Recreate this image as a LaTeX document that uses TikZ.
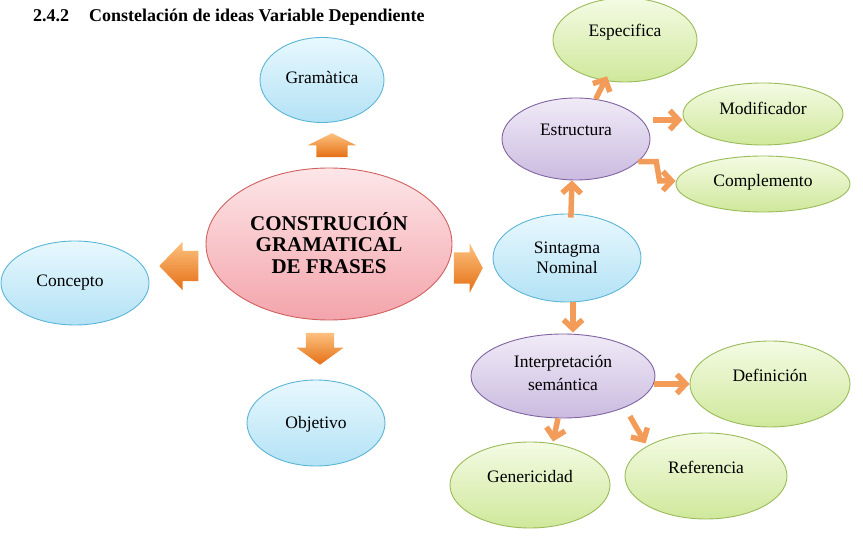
\documentclass[tikz,border=0pt]{standalone}
\usepackage{fontspec}
\setmainfont{Liberation Serif}
\usetikzlibrary{shapes.geometric,shapes.arrows,arrows.meta}
\definecolor{blueLine}{HTML}{5BB5D6}
\definecolor{blueTop}{HTML}{E8F8FE}
\definecolor{blueBot}{HTML}{B3E2F5}
\definecolor{pinkLine}{HTML}{D0605F}
\definecolor{pinkTop}{HTML}{FDE6E8}
\definecolor{pinkBot}{HTML}{F3A4AB}
\definecolor{violetLine}{HTML}{8064A2}
\definecolor{violetTop}{HTML}{F0EBF7}
\definecolor{violetBot}{HTML}{CBBBE0}
\definecolor{greenLine}{HTML}{9BBB59}
\definecolor{greenTop}{HTML}{F4FBE4}
\definecolor{greenBot}{HTML}{CFE89B}
\definecolor{orangeTop}{HTML}{FCC27F}
\definecolor{orangeBot}{HTML}{E56F15}
\definecolor{linkOrange}{HTML}{F39C5A}

\begin{document}
\begin{tikzpicture}[x=1pt,y=-1pt,
    idea/.style={ellipse, inner sep=0pt, line width=0.9pt},
    blueidea/.style={idea, draw=blueLine, top color=blueTop, bottom color=blueBot},
    pinkidea/.style={idea, draw=pinkLine, top color=pinkTop, bottom color=pinkBot},
    violetidea/.style={idea, draw=violetLine, top color=violetTop, bottom color=violetBot},
    greenidea/.style={idea, draw=greenLine, top color=greenTop, bottom color=greenBot},
    txt/.style={font=\fontsize{17.5}{21}\selectfont, align=center, inner sep=0pt},
    block/.style={single arrow, draw=none, anchor=tip, top color=orangeTop,
      bottom color=orangeBot, single arrow head indent=0pt},
    link/.style={draw=linkOrange, line width=5.5pt,
      -{Straight Barb[length=9pt,width=19pt]}}
  ]
    \useasboundingbox (0,0) rectangle (863,553);

    \node[anchor=west, font=\fontsize{18}{20}\selectfont\bfseries, inner sep=0pt] (title) at (33,17)
      {2.4.2\hspace{20pt}Constelación de ideas Variable Dependiente};

    % left half
    \node[pinkidea, minimum width=246pt, minimum height=152pt] (centro) at (329,244) {};
    \node[blueidea, minimum width=124pt, minimum height=85pt] (gram) at (322,80) {};
    \node[blueidea, minimum width=148pt, minimum height=84pt] (conc) at (75,283) {};
    \node[blueidea, minimum width=138pt, minimum height=86pt] (obj) at (316,423) {};

    \node[font=\fontsize{21}{21.5}\selectfont\bfseries, align=center, inner sep=0pt] (centroT) at (329,243)
      {CONSTRUCIÓN\\GRAMATICAL\\DE FRASES};
    \node[txt] (gramT) at (322,78) {Gramàtica};
    \node[txt] (concT) at (70,283) {Concepto};
    \node[txt] (objT) at (316,424) {Objetivo};

    % block arrows (placed by their tips)
    \node[block, shape border rotate=90, inner xsep=15.5pt, inner ysep=0pt, minimum height=24pt,
      single arrow head extend=8.5pt, single arrow tip angle=127] (aUp) at (332,133) {};
    \node[block, shape border rotate=270, inner xsep=14pt, inner ysep=0pt, minimum height=32pt,
      single arrow head extend=9.5pt, single arrow tip angle=108] (aDown) at (320,365) {};
    \node[block, shape border rotate=180, inner ysep=15pt, inner xsep=0pt, minimum height=39pt,
      single arrow head extend=9pt, single arrow tip angle=92] (aLeft) at (159,266) {};
    \node[block, inner ysep=15.5pt, inner xsep=0pt, minimum height=29pt,
      single arrow head extend=9pt, single arrow tip angle=124] (aRight) at (483,268) {};

    % right half
    \node[blueidea, minimum width=148pt, minimum height=88pt] (sint) at (567,258) {};
    \node[violetidea, minimum width=148pt, minimum height=82pt] (estr) at (576,139) {};
    \node[greenidea, minimum width=144pt, minimum height=84pt] (espec) at (625,40) {};
    \node[greenidea, minimum width=160pt, minimum height=62pt] (modif) at (763,114) {};
    \node[greenidea, minimum width=174pt, minimum height=56pt] (compl) at (763,184) {};
    \node[violetidea, minimum width=184pt, minimum height=84pt] (interp) at (563,376) {};
    \node[greenidea, minimum width=160pt, minimum height=86pt] (defin) at (770,384) {};
    \node[greenidea, minimum width=160pt, minimum height=86pt] (gener) at (530,485) {};
    \node[greenidea, minimum width=162pt, minimum height=86pt] (refer) at (706,476) {};

    \node[txt, font=\fontsize{17.5}{20}\selectfont] (sintT) at (567,258) {Sintagma\\Nominal};
    \node[txt] (estrT) at (576,130) {Estructura};
    \node[txt] (especT) at (625,32) {Especifica};
    \node[txt] (modifT) at (763,108) {Modificador};
    \node[txt] (complT) at (763,182) {Complemento};
    \node[txt, font=\fontsize{17.5}{23}\selectfont] (interpT) at (563,373) {Interpretación\\semántica};
    \node[txt] (definT) at (770,375) {Definición};
    \node[txt] (generT) at (530,477) {Genericidad};
    \node[txt] (referT) at (706,467) {Referencia};

    % connectors
    \draw[link, shorten <=-4pt] ([xshift=4pt]sint.north) -- ([xshift=-4pt]estr.south);
    \draw[link, shorten >=-5pt] (estr) -- (espec);
    \draw[link, shorten <=11pt] (estr.16) -- (estr.16 -| modif.west);
    \draw[link] (estr.-20) -- ++(18,0) -- ([xshift=-16pt,yshift=3pt]compl.west) -- ([yshift=3pt]compl.west);
    \draw[link, shorten >=1pt] ([xshift=6pt]sint.south) -- ([xshift=10pt]interp.north);
    \draw[link] (interp.-5) -- (interp.-5 -| defin.west);
    \draw[link] ([xshift=-5pt]interp.south) -- ([xshift=23pt]gener.north);
    \draw[link, shorten <=10pt, shorten >=3pt] (interp.-27) -- (refer.153);
\end{tikzpicture}
\end{document}
